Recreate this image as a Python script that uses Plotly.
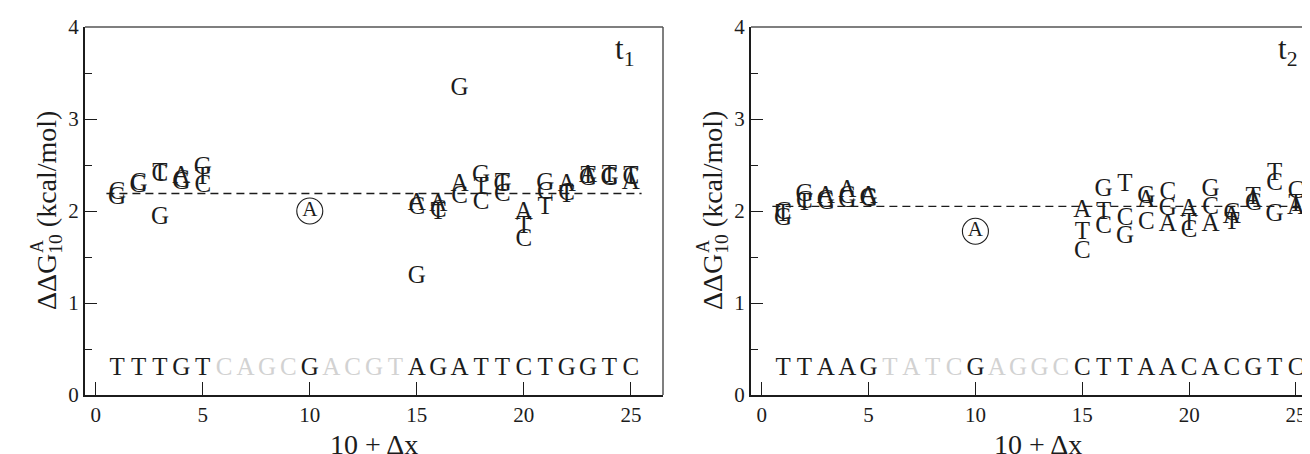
import plotly.graph_objects as go

# ---------------- data ----------------
# left panel (t1)
left_x = [1, 1, 2, 2, 3, 3, 3, 4, 4, 4, 5, 5, 5,
          15, 15, 15, 16, 16, 16, 17, 17, 17, 18, 18, 18, 19, 19, 19,
          20, 20, 20, 21, 21, 21, 22, 22, 22, 23, 23, 23, 24, 24, 24, 25, 25, 25]
left_letters = ["C", "G", "C", "G", "T", "C", "G", "A", "C", "G", "G", "T", "C",
                "A", "C", "G", "A", "C", "T", "G", "A", "C", "G", "T", "C", "T", "G", "C",
                "A", "T", "C", "G", "C", "T", "A", "C", "T", "A", "T", "G", "T", "C", "G", "T", "C", "A"]
left_vals = [2.20, 2.14, 2.30, 2.27, 2.41, 2.39, 1.93, 2.37, 2.33, 2.31, 2.47, 2.36, 2.27,
             2.08, 2.03, 1.29, 2.07, 2.00, 1.98, 3.33, 2.28, 2.16, 2.38, 2.25, 2.09, 2.30, 2.28, 2.18,
             1.98, 1.83, 1.69, 2.30, 2.20, 2.03, 2.29, 2.19, 2.17, 2.38, 2.37, 2.35, 2.38, 2.36, 2.35,
             2.37, 2.36, 2.31]
left_mean = 2.19
left_ref_x, left_ref_y = 10, 2.00
left_seq = list("TTTGTCAGCGACGTAGATTCTGGTC")

# right panel (t2)
right_x = [1, 1, 1, 2, 2, 2, 3, 3, 3, 4, 4, 4, 5, 5, 5,
           15, 15, 15, 16, 16, 16, 17, 17, 17, 18, 18, 18, 19, 19, 19,
           20, 20, 20, 21, 21, 21, 22, 22, 22, 23, 23, 23, 24, 24, 24, 25, 25, 25]
right_letters = ["C", "T", "G", "G", "C", "T", "A", "G", "C", "A", "C", "G", "A", "G", "C",
                 "A", "T", "C", "G", "T", "C", "T", "C", "G", "G", "A", "C", "C", "G", "A",
                 "A", "T", "C", "G", "C", "A", "C", "A", "T", "T", "A", "C", "T", "C", "G", "C", "T", "A"]
right_vals = [1.98, 1.96, 1.92, 2.18, 2.10, 2.08, 2.16, 2.11, 2.09, 2.22, 2.15, 2.11, 2.15, 2.13, 2.12,
              2.00, 1.76, 1.56, 2.23, 1.98, 1.83, 2.29, 1.92, 1.72, 2.15, 2.11, 1.87, 2.20, 2.02, 1.85,
              2.01, 1.86, 1.78, 2.23, 2.03, 1.85, 1.97, 1.94, 1.87, 2.14, 2.11, 2.08, 2.40, 2.30, 1.96,
              2.21, 2.07, 2.04]
right_mean = 2.05
right_ref_x, right_ref_y = 10, 1.78
right_seq = list("TTAAGTATCGAGGCCTTAACACGTC")

seq_pos = list(range(1, 26))
seq_y = 0.28
faded = set([6, 7, 8, 9, 11, 12, 13, 14])
mean_span = [0.5, 25.5]

x_ticks = [0, 5, 10, 15, 20, 25]
y_ticks = [0, 1, 2, 3, 4]

# ---------------- figure ----------------
W, H = 1310, 454
FONT = "Liberation Serif, Times New Roman, DejaVu Serif, serif"
INK = "#1c1c1c"
GREY = "#d2d2d2"

fig = go.Figure()


def add_panel(xs, letters, vals, mean, refx, refy, seq, xa, ya):
    fig.add_trace(go.Scatter(x=mean_span, y=[mean, mean], mode="lines",
                             line=dict(color=INK, width=1.4, dash="8px,5px"),
                             xaxis=xa, yaxis=ya, hoverinfo="skip", showlegend=False))
    fig.add_trace(go.Scatter(x=xs, y=vals, mode="text", text=letters,
                             textposition="middle center",
                             textfont=dict(family=FONT, size=25, color=INK),
                             xaxis=xa, yaxis=ya, hoverinfo="skip", showlegend=False))
    fig.add_trace(go.Scatter(x=[refx], y=[refy], mode="markers+text", text=["A"],
                             textposition="middle center",
                             textfont=dict(family=FONT, size=21, color=INK),
                             marker=dict(symbol="circle-open", size=26,
                                         color=INK, line=dict(width=1.1, color=INK)),
                             xaxis=xa, yaxis=ya, hoverinfo="skip", showlegend=False))
    cols = [GREY if p in faded else INK for p in seq_pos]
    fig.add_trace(go.Scatter(x=seq_pos, y=[seq_y] * len(seq_pos), mode="text", text=seq,
                             textposition="middle center",
                             textfont=dict(family=FONT, size=25, color=cols),
                             xaxis=xa, yaxis=ya, hoverinfo="skip", showlegend=False))


add_panel(left_x, left_letters, left_vals, left_mean, left_ref_x, left_ref_y, left_seq, "x", "y")
add_panel(right_x, right_letters, right_vals, right_mean, right_ref_x, right_ref_y, right_seq, "x2", "y2")

L0, L1 = 77 / W, 655 / W
R0, R1 = 743 / W, 1.0

xcommon = dict(tickvals=x_ticks, ticks="inside", ticklen=13, tickwidth=1.2, tickcolor=INK,
               showline=True, linecolor=INK, linewidth=2, showgrid=False, zeroline=False,
               tickfont=dict(family=FONT, size=21, color=INK), automargin=False)
ycommon = dict(range=[0, 4], tickvals=y_ticks, ticks="inside", ticklen=12, tickwidth=1.2,
               tickcolor=INK, showline=True, linecolor=INK, linewidth=2, showgrid=False,
               zeroline=False, tickfont=dict(family=FONT, size=21, color=INK), automargin=False,
               minor=dict(dtick=0.5, ticks="inside", ticklen=7, tickwidth=1.2, tickcolor=INK,
                          showgrid=False))

fig.update_layout(
    width=W, height=H,
    margin=dict(l=0, r=0, t=19, b=67),
    paper_bgcolor="white", plot_bgcolor="white",
    xaxis=dict(domain=[L0, L1], range=[-0.5, 26.5], anchor="y", **xcommon),
    yaxis=dict(domain=[0, 1], anchor="x", **ycommon),
    xaxis2=dict(domain=[R0, R1], range=[-0.5, 26.03], anchor="y2", **xcommon),
    yaxis2=dict(domain=[0, 1], anchor="x2", **ycommon),
)

BORDER = "#555555"
for xa, ya, right in [("x", "y", True), ("x2", "y2", False)]:
    fig.add_shape(type="line", xref=f"{xa} domain", yref=f"{ya} domain", x0=0, x1=1, y0=1, y1=1,
                  line=dict(color=BORDER, width=1.5))
    if right:
        fig.add_shape(type="line", xref=f"{xa} domain", yref=f"{ya} domain", x0=1, x1=1, y0=0, y1=1,
                      line=dict(color=BORDER, width=1.5))


def px(xp):
    return xp / W


def py(yp):
    return (387 - yp) / 368


ann = []
for off in [0, 743 - 77]:
    ann.append(dict(text="ΔΔG<sub>10</sub> (kcal/mol)", x=px(40 + off), y=py(203), xref="paper", yref="paper",
                    textangle=-90, showarrow=False, xanchor="center", yanchor="middle",
                    font=dict(family=FONT, size=28, color=INK)))
    ann.append(dict(text="A", x=px(29 + off), y=py(239), xref="paper", yref="paper",
                    textangle=-90, showarrow=False, xanchor="center", yanchor="middle",
                    font=dict(family=FONT, size=18, color=INK)))
for cx in [366, 1030]:
    ann.append(dict(text="10 + Δx", x=px(cx), y=py(436), xref="paper", yref="paper",
                    showarrow=False, xanchor="center", yanchor="middle",
                    font=dict(family=FONT, size=28, color=INK)))
for lx, lab in [(605, "t<sub>1</sub>"), (1268, "t<sub>2</sub>")]:
    ann.append(dict(text=lab, x=px(lx), y=py(43), xref="paper", yref="paper",
                    showarrow=False, xanchor="left", yanchor="middle",
                    font=dict(family=FONT, size=31, color=INK)))
fig.update_layout(annotations=ann)

fig.write_html("out.html")
